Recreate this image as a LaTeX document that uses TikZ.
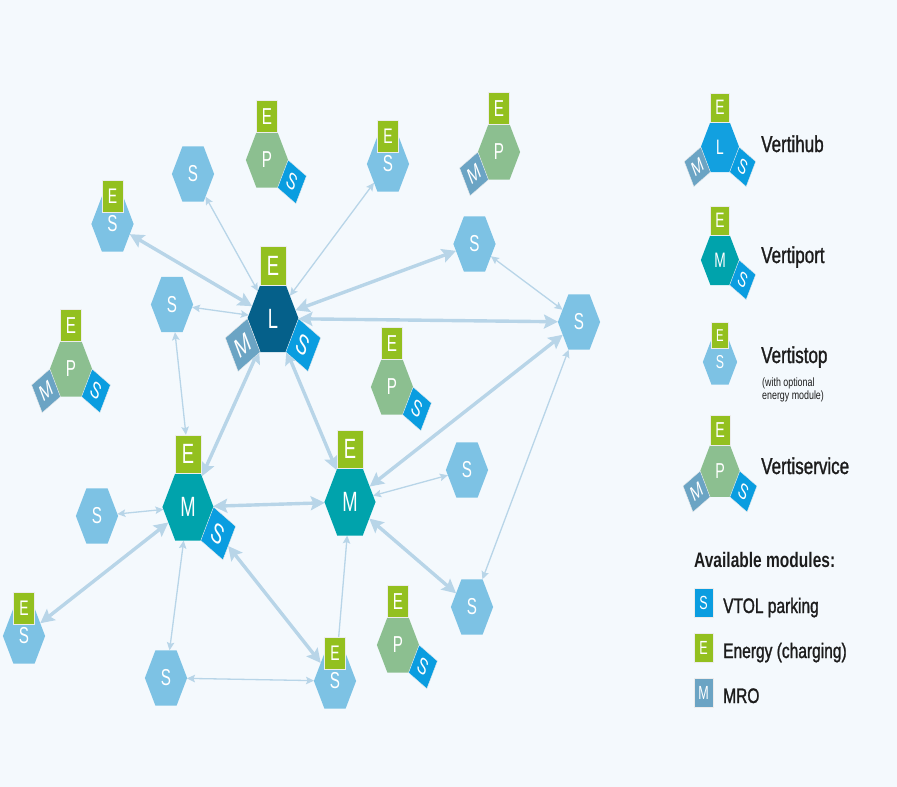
\documentclass[tikz,border=0pt]{standalone}
\usepackage{fontspec}
\setmainfont{Liberation Sans}
\newfontfamily\legendfont[FakeStretch=0.74, FakeBold=1.2]{Liberation Sans}
\newfontfamily\headfont[FakeStretch=0.74]{Liberation Sans}
\usetikzlibrary{shapes.geometric,arrows.meta}

\definecolor{bgcol}{HTML}{F4F9FD}
\definecolor{hubdark}{HTML}{05608A}
\definecolor{hubblue}{HTML}{12A0E0}
\definecolor{portteal}{HTML}{00A3AC}
\definecolor{stopblue}{HTML}{7DC2E4}
\definecolor{servgreen}{HTML}{8CBF90}
\definecolor{modE}{HTML}{93C01F}
\definecolor{modS}{HTML}{0A9DE0}
\definecolor{modM}{HTML}{6BA4C4}
\definecolor{linkcol}{HTML}{B8D5E8}
\definecolor{txt}{HTML}{1C1C1C}

\pgfdeclarelayer{back}
\pgfdeclarelayer{links}
\pgfsetlayers{back,links,main}

\tikzset{
  squash/.style={xscale=0.66},
  hexa/.style={regular polygon, regular polygon sides=6, inner sep=0pt,
    outer sep=0pt, text=white, transform shape},
  modsq/.style={rectangle, inner sep=0pt, outer sep=0pt, text=white,
    draw=white!85!gray, line width=0.4pt, transform shape},
  link/.style={draw=linkcol, line width=1.3pt,
    {Stealth[length=8pt,width=7.5pt,inset=1.5pt]}-{Stealth[length=8pt,width=7.5pt,inset=1.5pt]}},
  biglink/.style={draw=linkcol, line width=3.4pt,
    {Stealth[length=14pt,width=14pt,inset=2.5pt]}-{Stealth[length=14pt,width=14pt,inset=2.5pt]}},
  legtitle/.style={anchor=base west, inner sep=0pt, text=txt,
    font=\legendfont\fontsize{23}{23}\selectfont},
  legsmall/.style={anchor=base west, inner sep=0pt, text=txt,
    font=\headfont\fontsize{12}{12}\selectfont},
  legmod/.style={anchor=base west, inner sep=0pt, text=txt,
    font=\legendfont\fontsize{21}{21}\selectfont},
}

% hexagonal station: name, centre, circumradius, colour, letter
\newcommand\hexstation[5]{%
  \begin{scope}[shift={(#2)}, squash]
    \pgfmathsetmacro\hexfs{0.72*#3}%
    \node[hexa, minimum size={2*#3}, fill=#4,
      font=\fontsize{\hexfs}{\hexfs}\selectfont] (#1) at (0,0) {#5};
  \end{scope}}
% energy module on top edge
\newcommand\modtop[3]{%
  \begin{scope}[shift={(#2)}, squash]
    \pgfmathsetmacro\hexfs{0.72*#3}%
    \node[modsq, minimum size={#3}, fill=modE,
      font=\fontsize{\hexfs}{\hexfs}\selectfont] (#1-E) at (0,{-1.366*#3}) {E};
  \end{scope}}
% energy module sitting across the top edge (vertistop)
\newcommand\modcap[3]{%
  \begin{scope}[shift={(#2)}, squash]
    \pgfmathsetmacro\hexfs{0.66*#3}%
    \node[modsq, minimum size={#3}, fill=modE,
      font=\fontsize{\hexfs}{\hexfs}\selectfont] (#1-E) at (0,{-0.86*#3}) {E};
  \end{scope}}
% parking module on lower right edge
\newcommand\modright[3]{%
  \begin{scope}[shift={(#2)}, squash]
    \pgfmathsetmacro\hexfs{0.72*#3}%
    \node[modsq, minimum size={#3}, fill=modS, rotate=-30,
      font=\fontsize{\hexfs}{\hexfs}\selectfont] (#1-S) at ({1.183*#3},{0.683*#3}) {S};
  \end{scope}}
% MRO module on lower left edge
\newcommand\modleft[3]{%
  \begin{scope}[shift={(#2)}, squash]
    \pgfmathsetmacro\hexfs{0.72*#3}%
    \node[modsq, minimum size={#3}, fill=modM, rotate=30,
      font=\fontsize{\hexfs}{\hexfs}\selectfont] (#1-M) at ({-1.183*#3},{0.683*#3}) {M};
  \end{scope}}

\begin{document}
\begin{tikzpicture}[x=1pt, y=-1pt]
\begin{pgfonlayer}{back}
  \fill[bgcol] (0,0) rectangle (897,787);
\end{pgfonlayer}
\useasboundingbox (0,0) rectangle (897,787);

% ---- vertihub ----
\hexstation{hub}{273,318.5}{38.7}{hubdark}{L}
\modtop{hub}{273,318.5}{38.7}
\modright{hub}{273,318.5}{38.7}
\modleft{hub}{273,318.5}{38.7}

% ---- vertiports ----
\hexstation{pl}{188,507}{38.7}{portteal}{M}
\modtop{pl}{188,507}{38.7}
\modright{pl}{188,507}{38.7}
\hexstation{pr}{350,502}{38.7}{portteal}{M}
\modtop{pr}{350,502}{38.7}

% ---- vertistops ----
\hexstation{s1}{193,174}{32}{stopblue}{S}
\hexstation{s2}{388,164}{32}{stopblue}{S}
\modcap{s2}{388,164}{32}
\hexstation{s3}{112.5,224}{32}{stopblue}{S}
\modcap{s3}{112.5,224}{32}
\hexstation{s4}{172,304.5}{32}{stopblue}{S}
\hexstation{s5}{474.5,244}{32}{stopblue}{S}
\hexstation{s6}{579,322}{32}{stopblue}{S}
\hexstation{s7}{97,516}{32}{stopblue}{S}
\hexstation{s8}{467,470}{32}{stopblue}{S}
\hexstation{s9}{472,607}{32}{stopblue}{S}
\hexstation{s10}{24,636}{32}{stopblue}{S}
\modcap{s10}{24,636}{32}
\hexstation{s11}{166,678}{32}{stopblue}{S}
\hexstation{s12}{335,681}{32}{stopblue}{S}
\modcap{s12}{335,681}{32}

% ---- vertiservices ----
\hexstation{v1}{267,160}{32}{servgreen}{P}
\modtop{v1}{267,160}{32}
\modright{v1}{267,160}{32}
\hexstation{v2}{499,152}{32}{servgreen}{P}
\modtop{v2}{499,152}{32}
\modleft{v2}{499,152}{32}
\hexstation{v3}{71,369}{32}{servgreen}{P}
\modtop{v3}{71,369}{32}
\modright{v3}{71,369}{32}
\modleft{v3}{71,369}{32}
\hexstation{v4}{392,387}{32}{servgreen}{P}
\modtop{v4}{392,387}{32}
\modright{v4}{392,387}{32}
\hexstation{v5}{398,645}{32}{servgreen}{P}
\modtop{v5}{398,645}{32}
\modright{v5}{398,645}{32}

% ---- connections ----
\begin{pgfonlayer}{links}
  \draw[biglink] (hub) -- (s3);
  \draw[biglink] (hub) -- (s5);
  \draw[biglink] (hub) -- (s6);
  \draw[biglink] (hub) -- (pl);
  \draw[biglink] (hub) -- (pr);
  \draw[biglink] (s6) -- (pr);
  \draw[biglink] (pl) -- (pr);
  \draw[biglink] (pr) -- (s9);
  \draw[biglink] (pl) -- (s10);
  \draw[biglink] (pl-S) -- (s12);
  \draw[link] (hub) -- (s1);
  \draw[link] (hub) -- (s2);
  \draw[link] (hub) -- (s4);
  \draw[link] (s4) -- (pl-E);
  \draw[link] (s5) -- (s6);
  \draw[link] (s6) -- (s9);
  \draw[link] (pr) -- (s8);
  \draw[link] (pl) -- (s7);
  \draw[link] (pl) -- (s11);
  \draw[link] (pr) -- (s12);
  \draw[link] (s11) -- (s12);
\end{pgfonlayer}

% ---- legend: station types ----
\hexstation{kh}{720,147}{29}{hubblue}{L}
\modtop{kh}{720,147}{29}
\modright{kh}{720,147}{29}
\modleft{kh}{720,147}{29}
\node[legtitle] (kh-t) at (761,152) {Vertihub};

\hexstation{kp}{720,260}{29}{portteal}{M}
\modtop{kp}{720,260}{29}
\modright{kp}{720,260}{29}
\node[legtitle] (kp-t) at (761,263) {Vertiport};

\hexstation{ks}{720,362}{26}{stopblue}{S}
\modcap{ks}{720,358}{26}
\node[legtitle] (ks-t) at (761,363) {Vertistop};
\node[legsmall] (ks-n1) at (762,386) {(with optional};
\node[legsmall] (ks-n2) at (762,399) {energy module)};

\hexstation{kv}{720,471}{30}{servgreen}{P}
\modtop{kv}{720,471}{30}
\modright{kv}{720,471}{30}
\modleft{kv}{720,471}{30}
\node[legtitle] (kv-t) at (761,474) {Vertiservice};

% ---- legend: modules ----
\node[legmod, font=\headfont\bfseries\fontsize{21}{21}\selectfont] (mods-t) at (694,567) {Available modules:};
\begin{scope}[shift={(703.5,603)}, squash]
  \node[modsq, minimum size=29, fill=modS, font=\fontsize{19}{19}\selectfont] (key-S) at (0,0) {S};
\end{scope}
\begin{scope}[shift={(703.5,648)}, squash]
  \node[modsq, minimum size=29, fill=modE, font=\fontsize{19}{19}\selectfont] (key-E) at (0,0) {E};
\end{scope}
\begin{scope}[shift={(703.5,693)}, squash]
  \node[modsq, minimum size=29, fill=modM, font=\fontsize{19}{19}\selectfont] (key-M) at (0,0) {M};
\end{scope}
\node[legmod] (key-S-t) at (723,613) {VTOL parking};
\node[legmod] (key-E-t) at (723,658) {Energy (charging)};
\node[legmod] (key-M-t) at (723,703) {MRO};
\end{tikzpicture}
\end{document}
